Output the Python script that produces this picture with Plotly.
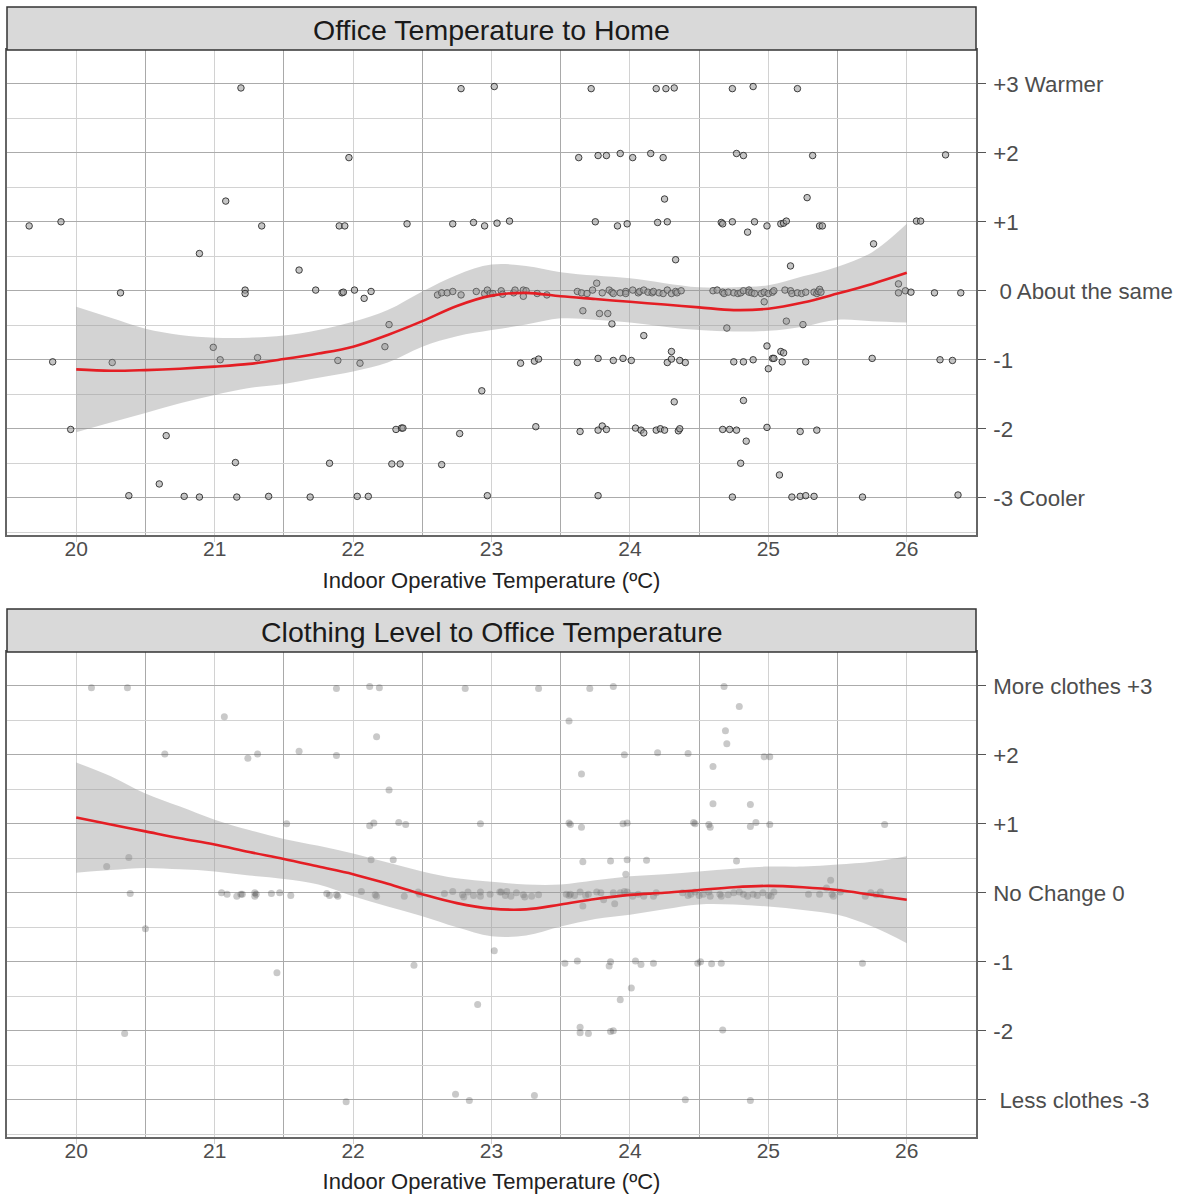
import plotly.graph_objects as go

# ---------------- data: top panel (Office temperature vs home) ----------------
home_temp = [
    21.19, 22.78, 23.02, 23.72, 24.19, 24.26, 24.32, 24.74, 24.89, 25.21,
    21.97, 23.63, 23.77, 23.83, 23.93, 24.02, 24.15, 24.24, 24.77, 24.82, 25.32, 26.28,
    21.08, 24.25, 25.28,
    20.89, 25.76, 24.33, 21.61, 25.16, 24.85, 24.99,
    19.66, 19.89, 21.34, 21.90, 21.94, 22.39, 22.72, 22.87, 22.95, 23.04, 23.13, 23.75,
    23.91, 23.98, 24.20, 24.27, 24.66, 24.67, 24.74, 24.90, 25.09, 25.11, 25.13, 25.37,
    25.39, 26.07, 26.10,
    20.32, 21.22, 21.22, 21.73, 21.92, 21.93, 22.01, 22.08, 22.13, 22.26, 22.23,
    22.61, 22.64, 22.68, 22.72, 22.78, 22.89, 22.95, 22.97, 22.99, 23.01, 23.07, 23.08,
    23.16, 23.17, 23.23, 23.23, 23.25, 23.33, 23.40,
    23.62, 23.65, 23.66, 23.69, 23.73, 23.76, 23.78, 23.80, 23.84, 23.85, 23.87, 23.87,
    23.88, 23.93, 23.97, 23.97, 24.02, 24.06, 24.07, 24.10, 24.10, 24.13, 24.16, 24.17,
    24.21, 24.24, 24.27, 24.30, 24.33, 24.34, 24.37,
    24.60, 24.63, 24.67, 24.68, 24.71, 24.70, 24.75, 24.78, 24.80, 24.82, 24.86, 24.86,
    24.88, 24.90, 24.95, 24.97, 24.97, 25.00, 25.03, 25.04, 25.12, 25.13, 25.16, 25.17,
    25.21, 25.24, 25.25, 25.27, 25.33, 25.35, 25.36, 25.37, 25.38,
    25.94, 25.94, 25.99, 26.03, 26.20, 26.39,
    19.83, 20.26, 20.99, 21.04, 21.31, 21.89, 22.05, 22.93, 23.21, 23.31, 23.34, 23.62,
    23.77, 23.88, 23.95, 24.01, 24.27, 24.30, 24.30, 24.36, 24.40, 24.32, 24.75, 24.82,
    24.89, 24.82, 24.99, 25.00, 25.03, 25.04, 25.09, 25.11, 25.10, 25.27, 25.75, 26.24, 26.33,
    19.96, 20.65, 22.31, 22.35, 22.36, 22.77, 23.32, 23.64, 23.77, 23.80, 23.83, 24.04,
    24.08, 24.10, 24.19, 24.22, 24.25, 24.35, 24.36, 24.67, 24.72, 24.77, 24.84, 24.99,
    25.23, 25.35,
    21.15, 21.83, 22.28, 22.34, 22.64, 24.80, 25.08, 20.60,
    20.38, 20.78, 20.89, 21.16, 21.39, 21.69, 22.03, 22.11, 22.97, 23.77, 24.74, 25.17,
    25.23, 25.27, 25.33, 25.68, 26.37,
]
home_vote = [
    2.94, 2.93, 2.96, 2.93, 2.93, 2.93, 2.94, 2.93, 2.96, 2.93,
    1.93, 1.93, 1.96, 1.96, 1.99, 1.93, 1.99, 1.93, 1.99, 1.96, 1.96, 1.97,
    1.30, 1.33, 1.35,
    0.54, 0.68, 0.45, 0.30, 0.36, 0.85, 0.94,
    0.94, 1.00, 0.94, 0.94, 0.94, 0.97, 0.97, 0.99, 0.94, 0.98, 1.01, 1.00,
    0.94, 0.97, 0.99, 1.00, 0.99, 0.97, 1.00, 1.00, 0.97, 0.98, 1.01, 0.94,
    0.94, 1.01, 1.01,
    -0.03, 0.01, -0.04, 0.01, -0.03, -0.02, 0.01, -0.11, -0.01, -0.49, -0.81,
    -0.06, -0.03, -0.03, -0.01, -0.06, -0.01, -0.04, 0.01, -0.04, -0.04, 0.00, -0.05,
    -0.03, 0.01, -0.08, 0.01, 0.00, -0.04, -0.06,
    -0.01, -0.03, -0.29, -0.04, 0.01, 0.11, -0.33, -0.03, -0.33, 0.01, -0.48, -0.02,
    -0.04, -0.03, -0.01, -0.04, 0.01, -0.03, -0.01, -0.65, 0.01, -0.02, -0.03, -0.01,
    -0.03, -0.04, 0.01, -0.04, -0.01, -0.03, 0.00,
    0.00, 0.01, -0.02, -0.04, -0.02, -0.54, -0.03, -0.04, -0.03, 0.00, 0.01, -0.02,
    -0.03, -0.04, -0.04, -0.02, -0.16, -0.04, -0.02, 0.00, 0.01, -0.44, 0.00, -0.04,
    -0.03, -0.04, -0.49, -0.02, -0.02, -0.04, -0.01, 0.02, -0.02,
    0.10, -0.03, 0.00, -0.02, -0.03, -0.03,
    -1.03, -1.04, -0.82, -1.00, -0.97, -1.01, -1.05, -1.45, -1.05, -1.02, -0.99, -1.04,
    -0.98, -1.01, -0.98, -1.01, -1.04, -0.88, -0.99, -1.01, -1.04, -1.61, -1.03, -1.03,
    -1.00, -1.59, -0.80, -1.13, -0.98, -0.98, -0.88, -0.90, -1.03, -1.03, -0.98, -1.00, -1.01,
    -2.01, -2.10, -2.01, -1.99, -1.99, -2.07, -1.97, -2.04, -2.02, -1.96, -2.01, -1.99,
    -2.02, -2.06, -2.02, -2.00, -2.02, -2.03, -2.00, -2.01, -2.01, -2.02, -2.18, -1.98,
    -2.04, -2.02,
    -2.49, -2.50, -2.51, -2.51, -2.52, -2.50, -2.67, -2.80,
    -2.97, -2.98, -2.99, -2.99, -2.98, -2.99, -2.98, -2.98, -2.97, -2.97, -2.99, -2.99,
    -2.98, -2.97, -2.98, -2.99, -2.96,
]

# smoother – top panel
smooth_x = [20.0, 20.25, 20.5, 20.75, 21.0, 21.25, 21.5, 21.75, 22.0, 22.25, 22.5, 22.75,
            23.0, 23.25, 23.5, 23.75, 24.0, 24.25, 24.5, 24.75, 25.0, 25.25, 25.5, 25.75, 26.0]
home_fit = [-1.14, -1.16, -1.15, -1.13, -1.10, -1.06, -0.99, -0.91, -0.81, -0.64, -0.44, -0.22,
            -0.07, -0.03, -0.08, -0.12, -0.16, -0.20, -0.24, -0.28, -0.26, -0.17, -0.04, 0.10, 0.26]
home_upper = [-0.23, -0.39, -0.55, -0.64, -0.68, -0.68, -0.65, -0.57, -0.45, -0.28, -0.01, 0.23,
              0.38, 0.36, 0.27, 0.22, 0.18, 0.11, 0.05, 0.05, 0.08, 0.21, 0.35, 0.56, 0.97]
home_lower = [-2.05, -1.91, -1.77, -1.63, -1.51, -1.41, -1.35, -1.26, -1.17, -1.04, -0.81, -0.66,
              -0.57, -0.49, -0.40, -0.42, -0.46, -0.52, -0.57, -0.59, -0.58, -0.52, -0.42, -0.44, -0.46]

# ---------------- data: bottom panel (clothing level) ----------------
cloth_temp = [
    20.11, 20.37, 21.88, 22.12, 22.19, 22.81, 23.34, 23.71, 23.88, 24.68,
    21.07, 23.56, 24.79, 24.69, 24.70, 22.17,
    20.64, 21.24, 21.31, 21.61, 21.88, 23.96, 24.20, 24.42, 24.97, 25.01, 24.60, 23.65,
    22.26, 24.60, 24.87,
    21.52, 22.12, 22.15, 22.33, 22.38, 22.92, 23.56, 23.57, 23.65, 23.95, 23.98, 24.46,
    24.47, 24.57, 24.58, 24.87, 24.91, 25.01, 25.84,
    20.22, 20.38, 22.13, 22.29, 23.66, 23.86, 23.98, 24.12, 24.77, 23.97, 25.45, 25.42,
    20.39, 21.05, 21.09, 21.16, 21.19, 21.20, 21.29, 21.29, 21.30, 21.41, 21.47, 21.55,
    21.81, 21.83, 21.88, 21.89, 22.06, 22.16, 22.17, 22.37, 22.47, 22.48, 22.66, 22.72,
    22.79, 22.80, 22.83, 22.87, 22.92, 22.92, 22.99, 23.06,
    23.07, 23.10, 23.11, 23.14, 23.18, 23.23, 23.24, 23.29, 23.34, 23.54, 23.56, 23.57,
    23.60, 23.64, 23.66, 23.68, 23.70, 23.76, 23.79, 23.81, 23.88, 23.89, 23.93, 23.96,
    23.98, 24.02, 24.06, 24.10, 24.17, 24.19, 24.38, 24.42, 24.44, 24.47, 24.50, 24.53,
    24.57, 24.58, 24.65, 24.66, 24.71, 24.75, 24.79, 24.82, 24.85, 24.89, 24.92, 24.96,
    25.00, 25.02, 25.04, 25.29, 25.37, 25.46, 25.47, 25.52, 25.70, 25.74, 25.78, 25.81,
    20.50,
    21.45, 22.44, 23.02, 23.53, 23.62, 23.85, 23.86, 24.04, 24.08, 24.17, 24.49, 24.51,
    24.59, 24.66, 25.68,
    24.01, 23.93, 22.90,
    20.35, 23.64, 23.64, 23.70, 23.86, 23.88, 24.67,
    21.95, 22.74, 22.84, 23.31, 24.40, 24.87,
]
cloth_vote = [
    2.97, 2.97, 2.96, 2.99, 2.97, 2.96, 2.96, 2.96, 2.99, 2.99,
    2.55, 2.49, 2.70, 2.35, 2.16, 2.26,
    2.01, 1.95, 2.01, 2.05, 1.99, 2.00, 2.03, 2.02, 1.97, 1.97, 1.83, 1.72,
    1.49, 1.29, 1.28,
    1.00, 0.97, 1.01, 1.02, 0.99, 1.00, 1.01, 0.99, 0.95, 1.00, 1.01, 1.02,
    1.00, 0.99, 0.95, 0.96, 1.02, 0.99, 0.99,
    0.38, 0.51, 0.48, 0.48, 0.45, 0.46, 0.48, 0.47, 0.46, 0.27, 0.18, 0.07,
    -0.01, 0.00, -0.02, -0.05, -0.02, -0.02, 0.00, -0.05, -0.02, -0.01, 0.00, -0.04,
    -0.01, -0.04, -0.03, -0.05, 0.02, -0.03, -0.05, -0.05, 0.01, -0.02, -0.01, 0.02,
    -0.03, -0.06, 0.01, -0.04, 0.01, -0.05, -0.02, 0.01,
    0.01, -0.04, 0.02, -0.05, 0.00, -0.03, -0.06, -0.05, -0.03, -0.02, -0.04, -0.02,
    -0.04, 0.01, -0.19, -0.04, -0.02, 0.01, 0.00, -0.10, 0.00, -0.16, 0.00, 0.02,
    0.01, -0.05, -0.02, -0.05, -0.05, 0.00, 0.00, -0.04, -0.02, 0.01, -0.04, -0.02,
    0.01, -0.05, -0.02, -0.05, -0.03, 0.00, 0.01, -0.02, -0.05, -0.02, -0.04, 0.00,
    -0.04, -0.05, 0.01, -0.02, -0.02, -0.02, -0.05, 0.01, -0.05, 0.00, -0.03, 0.01,
    -0.52,
    -1.16, -1.05, -0.84, -1.02, -0.99, -1.06, -1.00, -0.99, -1.04, -1.02, -1.02, -1.00,
    -1.03, -1.02, -1.02,
    -1.38, -1.55, -1.62,
    -2.04, -1.95, -2.03, -2.04, -2.01, -2.00, -1.99,
    -3.03, -2.92, -3.01, -2.94, -3.00, -3.01,
]

cloth_fit = [1.09, 0.99, 0.89, 0.79, 0.70, 0.59, 0.49, 0.38, 0.27, 0.13, -0.02, -0.15,
             -0.23, -0.24, -0.17, -0.09, -0.03, 0.00, 0.04, 0.08, 0.10, 0.08, 0.04, -0.03, -0.10]
cloth_upper = [1.89, 1.69, 1.44, 1.25, 1.06, 0.91, 0.78, 0.68, 0.57, 0.44, 0.31, 0.21,
               0.16, 0.12, 0.12, 0.18, 0.24, 0.27, 0.31, 0.35, 0.38, 0.38, 0.41, 0.45, 0.53]
cloth_lower = [0.29, 0.33, 0.36, 0.34, 0.31, 0.25, 0.20, 0.12, -0.05, -0.20, -0.34, -0.50,
               -0.63, -0.62, -0.49, -0.38, -0.32, -0.24, -0.17, -0.17, -0.20, -0.25, -0.32, -0.49, -0.73]

x_ticks = [20, 21, 22, 23, 24, 25, 26]
y_ticks = [-3, -2, -1, 0, 1, 2, 3]
home_labels = ["-3 Cooler", "-2", "-1", "\u00a00 About the same", "+1", "+2", "+3 Warmer"]
cloth_labels = ["\u00a0Less clothes -3", "-2", "-1", "No Change 0", "+1", "+2", "More clothes +3"]
titles = ["Office Temperature to Home", "Clothing Level to Office Temperature"]
x_title = "Indoor Operative Temperature (ºC)"

# ---------------- figure ----------------
W, H = 1178, 1194
FONT = "Liberation Sans, Arial, Helvetica, sans-serif"
band_fill = "rgba(150,150,150,0.42)"
red = "rgb(228,30,36)"

fig = go.Figure()


def add_panel(xs, ys, fit, up, lo, xa, ya, top_style):
    if top_style:
        marker = dict(size=6.5, color="rgba(160,160,160,0.6)",
                      line=dict(color="rgba(35,35,35,0.85)", width=1))
    else:
        marker = dict(size=7, color="rgba(60,60,60,0.28)", line=dict(width=0))
    fig.add_trace(go.Scatter(x=xs, y=ys, mode="markers", marker=marker,
                             xaxis=xa, yaxis=ya, showlegend=False, hoverinfo="x+y"))
    fig.add_trace(go.Scatter(x=smooth_x, y=lo, mode="lines", line=dict(width=0, shape="spline"),
                             xaxis=xa, yaxis=ya, showlegend=False, hoverinfo="skip"))
    fig.add_trace(go.Scatter(x=smooth_x, y=up, mode="lines", line=dict(width=0, shape="spline"),
                             fill="tonexty", fillcolor=band_fill,
                             xaxis=xa, yaxis=ya, showlegend=False, hoverinfo="skip"))
    fig.add_trace(go.Scatter(x=smooth_x, y=fit, mode="lines",
                             line=dict(color=red, width=2.6, shape="spline"),
                             xaxis=xa, yaxis=ya, showlegend=False))


add_panel(home_temp, home_vote, home_fit, home_upper, home_lower, "x", "y", True)
add_panel(cloth_temp, cloth_vote, cloth_fit, cloth_upper, cloth_lower, "x2", "y2", False)


def py(pix):
    return 1 - pix / H


def xaxis_cfg(anchor):
    return dict(
        anchor=anchor, domain=[0, 1], range=[19.5, 26.5],
        tickmode="array", tickvals=x_ticks, ticktext=[str(v) for v in x_ticks],
        showgrid=True, gridcolor="#d2d2d2", gridwidth=1.3,
        minor=dict(tickmode="linear", tick0=0, dtick=0.5, showgrid=True,
                   gridcolor="#a9a9a9", gridwidth=1, ticks=""),
        ticks="outside", ticklen=5, tickcolor="#cccccc", tickwidth=1.3,
        ticklabelstandoff=-11,
        showline=True, mirror=True, linecolor="#666666", linewidth=1.6,
        zeroline=False, tickfont=dict(family=FONT, size=21, color="#4d4d4d"),
        title=dict(text=x_title, font=dict(family=FONT, size=22, color="#222222"), standoff=14),
    )


def yaxis_cfg(anchor, dom, labels):
    return dict(
        anchor=anchor, domain=dom, range=[-3.54, 3.49], side="right",
        tickmode="array", tickvals=y_ticks, ticktext=labels,
        showgrid=True, gridcolor="#ababab", gridwidth=1,
        minor=dict(tickmode="linear", tick0=0, dtick=0.5, showgrid=True,
                   gridcolor="#d2d2d2", gridwidth=1.3, ticks=""),
        ticks="outside", ticklen=8, tickcolor="#555555", tickwidth=1,
        ticklabelstandoff=3,
        showline=True, mirror=True, linecolor="#666666", linewidth=1.6,
        zeroline=False, tickfont=dict(family=FONT, size=22.3, color="#4d4d4d"),
    )


fig.update_layout(
    width=W, height=H,
    margin=dict(l=7, r=202, t=0, b=0),
    paper_bgcolor="white", plot_bgcolor="white",
    font=dict(family=FONT),
    xaxis=xaxis_cfg("y"),
    yaxis=yaxis_cfg("x", [py(535), py(50)], home_labels),
    xaxis2=xaxis_cfg("y2"),
    yaxis2=yaxis_cfg("x2", [py(1137), py(652)], cloth_labels),
    showlegend=False,
)

# facet strips
strips = [(7, 50), (609, 652)]
for (top, bot), t in zip(strips, titles):
    fig.add_shape(type="rect", xref="paper", yref="paper", x0=0, x1=1,
                  y0=py(bot), y1=py(top), fillcolor="#d9d9d9",
                  line=dict(color="#333333", width=1.5), layer="above")
    fig.add_annotation(text=t, xref="paper", yref="paper", x=0.5, y=py((top + bot) / 2 + 1.5),
                       xanchor="center", yanchor="middle", showarrow=False,
                       font=dict(family=FONT, size=28.5, color="#1a1a1a"))

fig.write_html("out.html")
